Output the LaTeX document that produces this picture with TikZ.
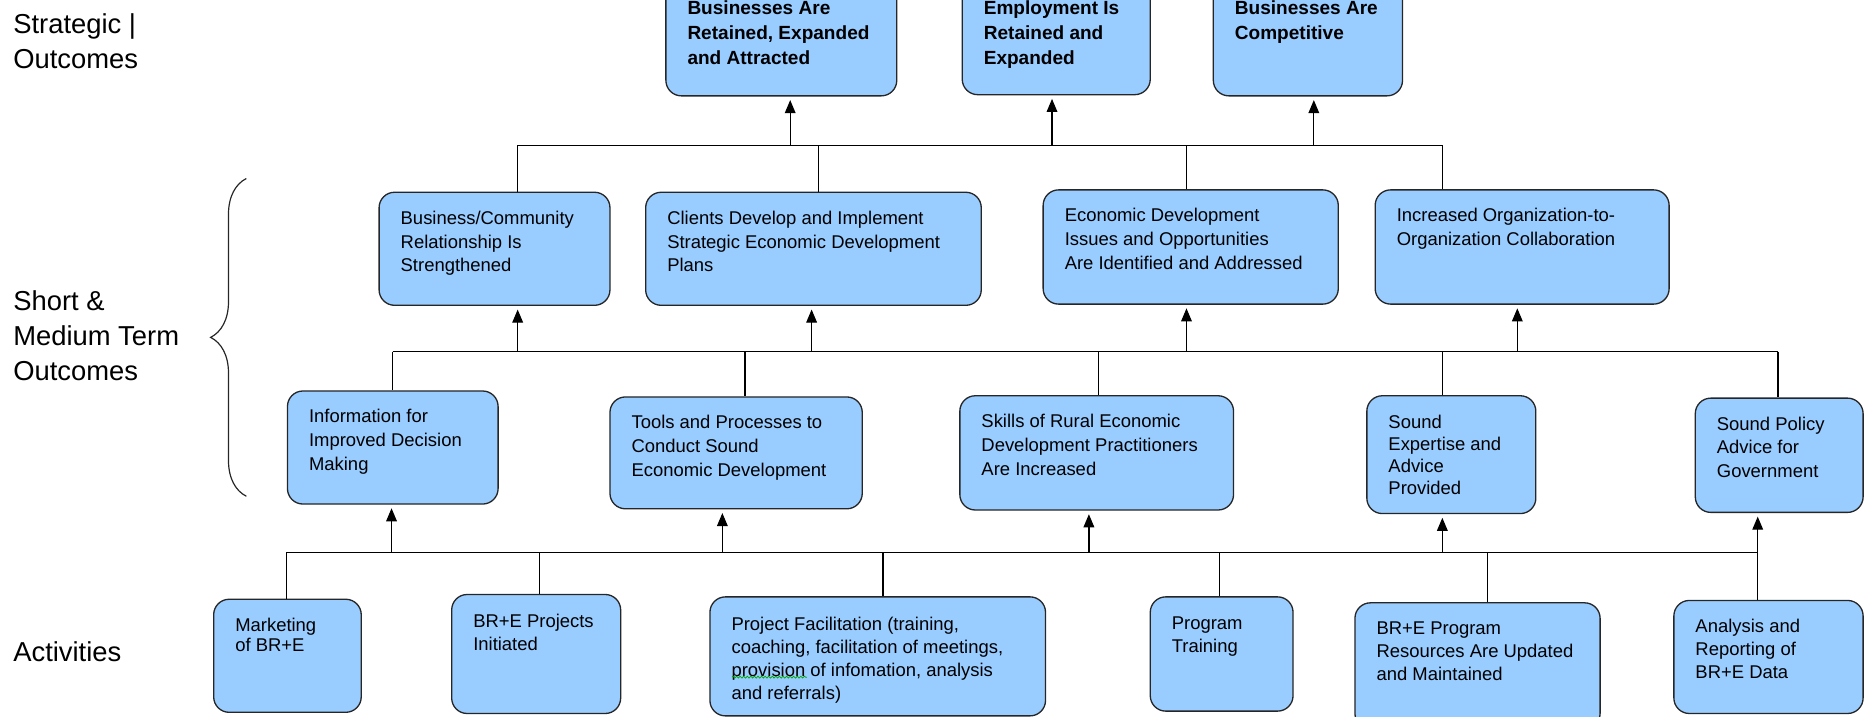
\documentclass[tikz,border=0pt]{standalone}
\usepackage{fontspec}
\setmainfont{Liberation Sans}
\usetikzlibrary{arrows.meta,decorations.pathreplacing,decorations.pathmorphing}
\definecolor{boxblue}{RGB}{153,204,255}
\definecolor{boxline}{RGB}{38,38,38}

\begin{document}
\begin{tikzpicture}[x=1pt,y=-1pt,
		outbox/.style={draw=boxline, line width=1.1pt, fill=boxblue, rounded corners=13pt, anchor=north west, inner sep=0pt},
		outtext/.style={anchor=north west, inner sep=0pt, align=left, font=\fontsize{15.5}{20}\selectfont},
		lowtext/.style={outtext, font=\fontsize{15.5}{19.5}\selectfont},
		toptext/.style={outtext, font=\fontsize{16}{21}\selectfont\bfseries},
		sidelabel/.style={anchor=north west, inner sep=0pt, align=left, font=\fontsize{23}{29.5}\selectfont},
		bus/.style={line width=1pt},
		busarrow/.style={bus, -{Triangle[width=9pt,length=11pt]}, shorten >=3pt}]
					\useasboundingbox (0,0) rectangle (1568,602);
					\clip (0,0) rectangle (1568,602);
					
					\node[sidelabel] (lstrat) at (11,11) {Strategic |\\Outcomes};
					\node[sidelabel] (lshort) at (11,244) {Short \&\\Medium Term\\Outcomes};
					\node[sidelabel] (lact) at (11,539) {Activities};
					\draw[boxline, line width=1pt, decorate, decoration={brace, amplitude=30pt}] (207,417) -- (207,150);
					
					\node[outbox, minimum width=194pt, minimum height=96pt] (t1) at (559,-16) {};
					\node[toptext] (t1-txt) at ([shift={(18.5pt,-16pt)}]t1.north west) {Businesses Are\\Retained, Expanded\\and Attracted};
					\node[outbox, minimum width=158pt, minimum height=95pt] (t2) at (808,-16) {};
					\node[toptext] (t2-txt) at ([shift={(18.5pt,-16pt)}]t2.north west) {Employment Is\\Retained and\\Expanded};
					\node[outbox, minimum width=159pt, minimum height=96pt] (t3) at (1019,-16) {};
					\node[toptext] (t3-txt) at ([shift={(18.5pt,-16pt)}]t3.north west) {Businesses Are\\Competitive};
					
					\node[outbox, minimum width=194pt, minimum height=95pt] (m1) at (318,161) {};
					\node[outtext] (m1-txt) at ([shift={(18.5pt,-16pt)}]m1.north west) {Business/Community\\Relationship Is\\Strengthened};
					\node[outbox, minimum width=282pt, minimum height=95pt] (m2) at (542,161) {};
					\node[outtext] (m2-txt) at ([shift={(18.5pt,-16pt)}]m2.north west) {Clients Develop and Implement\\Strategic Economic Development\\Plans};
					\node[outbox, minimum width=248pt, minimum height=96pt] (m3) at (876,159) {};
					\node[outtext] (m3-txt) at ([shift={(18.5pt,-16pt)}]m3.north west) {Economic Development\\Issues and Opportunities\\Are Identified and Addressed};
					\node[outbox, minimum width=247pt, minimum height=96pt] (m4) at (1155,159) {};
					\node[outtext] (m4-txt) at ([shift={(18.5pt,-16pt)}]m4.north west) {Increased Organization-to-\\Organization Collaboration};
					
					\node[outbox, minimum width=177pt, minimum height=95pt] (l1) at (241,328) {};
					\node[outtext] (l1-txt) at ([shift={(18.5pt,-16pt)}]l1.north west) {Information for\\Improved Decision\\Making};
					\node[outbox, minimum width=212pt, minimum height=94pt] (l2) at (512,333) {};
					\node[outtext] (l2-txt) at ([shift={(18.5pt,-16pt)}]l2.north west) {Tools and Processes to\\Conduct Sound\\Economic Development};
					\node[outbox, minimum width=230pt, minimum height=96pt] (l3) at (806,332) {};
					\node[outtext] (l3-txt) at ([shift={(18.5pt,-16pt)}]l3.north west) {Skills of Rural Economic\\Development Practitioners\\Are Increased};
					\node[outbox, minimum width=142pt, minimum height=99pt] (l4) at (1148,332) {};
					\node[outtext, font=\fontsize{15.5}{18.5}\selectfont] (l4-txt) at ([shift={(18.5pt,-17pt)}]l4.north west) {Sound\\Expertise and\\Advice\\Provided};
					\node[outbox, minimum width=141pt, minimum height=96pt] (l5) at (1424,334) {};
					\node[outtext] (l5-txt) at ([shift={(18.5pt,-16pt)}]l5.north west) {Sound Policy\\Advice for\\Government};
					
					\node[outbox, minimum width=124pt, minimum height=95pt] (b1) at (179,503) {};
					\node[outtext, font=\fontsize{15.5}{17}\selectfont] (b1-txt) at ([shift={(18.5pt,-16pt)}]b1.north west) {Marketing\\of BR+E};
					\node[outbox, minimum width=142pt, minimum height=100pt] (b2) at (379,499) {};
					\node[lowtext] (b2-txt) at ([shift={(18.5pt,-17pt)}]b2.north west) {BR+E Projects\\Initiated};
					\node[outbox, minimum width=282pt, minimum height=100pt] (b3) at (596,501) {};
					\node[lowtext] (b3-txt) at ([shift={(18.5pt,-17pt)}]b3.north west) {Project Facilitation (training,\\coaching, facilitation of meetings,\\provision of infomation, analysis\\and referrals)};
					\node[outbox, minimum width=120pt, minimum height=96pt] (b4) at (966,501) {};
					\node[lowtext] (b4-txt) at ([shift={(18.5pt,-17pt)}]b4.north west) {Program\\Training};
					\node[outbox, minimum width=206pt, minimum height=106pt] (b5) at (1138,506) {};
					\node[lowtext] (b5-txt) at ([shift={(18.5pt,-16pt)}]b5.north west) {BR+E Program\\Resources Are Updated\\and Maintained};
					\node[outbox, minimum width=159pt, minimum height=95pt] (b6) at (1406,504) {};
					\node[lowtext] (b6-txt) at ([shift={(18.5pt,-16pt)}]b6.north west) {Analysis and\\Reporting of\\BR+E Data};
					\draw[green!65!black, line width=0.6pt, decorate, decoration={snake, amplitude=0.8pt, segment length=3pt}] (615,569) -- (678,569);
					
					\coordinate (tb1) at (435,122);
					\coordinate (tb2) at (664,122);
					\coordinate (tb3) at (688,122);
					\coordinate (tb4) at (884,122);
					\coordinate (tb5) at (997,122);
					\coordinate (tb6) at (1104,122);
					\coordinate (tb7) at (1212,122);
					\draw[bus] (tb1) -- (tb7);
					\draw[bus] (tb1) -- (tb1 |- m1.north);
					\draw[bus] (tb3) -- (tb3 |- m2.north);
					\draw[bus] (tb5) -- (tb5 |- m3.north);
					\draw[bus] (tb7) -- (tb7 |- m4.north);
					\draw[busarrow] (tb2) -- (tb2 |- t1.south);
					\draw[busarrow] (tb4) -- (tb4 |- t2.south);
					\draw[busarrow] (tb6) -- (tb6 |- t3.south);
					
					\coordinate (mb1) at (330,295.5);
					\coordinate (mb2) at (435,295.5);
					\coordinate (mb3) at (626,295.5);
					\coordinate (mb4) at (682,295.5);
					\coordinate (mb5) at (923,295.5);
					\coordinate (mb6) at (997,295.5);
					\coordinate (mb7) at (1212,295.5);
					\coordinate (mb8) at (1275,295.5);
					\coordinate (mb9) at (1494,295.5);
					\draw[bus] (mb1) -- (mb9);
					\draw[bus] (mb1) -- (mb1 |- l1.north);
					\draw[bus] (mb3) -- (mb3 |- l2.north);
					\draw[bus] (mb5) -- (mb5 |- l3.north);
					\draw[bus] (mb7) -- (mb7 |- l4.north);
					\draw[bus] (mb9) -- (mb9 |- l5.north);
					\draw[busarrow] (mb2) -- (mb2 |- m1.south);
					\draw[busarrow] (mb4) -- (mb4 |- m2.south);
					\draw[busarrow] (mb6) -- (mb6 |- m3.south);
					\draw[busarrow] (mb8) -- (mb8 |- m4.south);
					
					\coordinate (bb1) at (241,464);
					\coordinate (bb2) at (329,464);
					\coordinate (bb3) at (453,464);
					\coordinate (bb4) at (607,464);
					\coordinate (bb5) at (742,464);
					\coordinate (bb6) at (915,464);
					\coordinate (bb7) at (1025,464);
					\coordinate (bb8) at (1212,464);
					\coordinate (bb9) at (1250,464);
					\coordinate (bb10) at (1477,464);
					\draw[bus] (bb1) -- (bb10);
					\draw[bus] (bb1) -- (bb1 |- b1.north);
					\draw[bus] (bb3) -- (bb3 |- b2.north);
					\draw[bus] (bb5) -- (bb5 |- b3.north);
					\draw[bus] (bb7) -- (bb7 |- b4.north);
					\draw[bus] (bb9) -- (bb9 |- b5.north);
					\draw[bus] (bb10) -- (bb10 |- b6.north);
					\draw[busarrow] (bb2) -- (bb2 |- l1.south);
					\draw[busarrow] (bb4) -- (bb4 |- l2.south);
					\draw[busarrow] (bb6) -- (bb6 |- l3.south);
					\draw[busarrow] (bb8) -- (bb8 |- l4.south);
					\draw[busarrow] (bb10) -- (bb10 |- l5.south);
\end{tikzpicture}
\end{document}
